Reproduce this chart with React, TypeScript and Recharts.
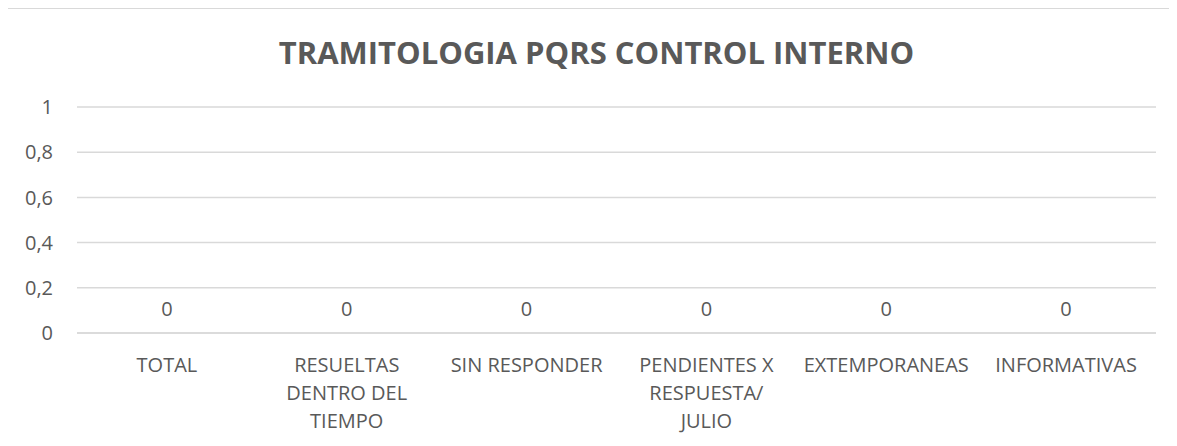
import { ComposedChart, Line, XAxis, YAxis, CartesianGrid, LabelList } from "recharts";

const CATEGORIES = [
  "TOTAL",
  "RESUELTAS\nDENTRO DEL\nTIEMPO",
  "SIN RESPONDER",
  "PENDIENTES X\nRESPUESTA/\nJULIO",
  "EXTEMPORANEAS",
  "INFORMATIVAS",
];
const VALUES = [0, 0, 0, 0, 0, 0];
const Y_TICKS = [0, 0.2, 0.4, 0.6, 0.8, 1];

const TITLE = "TRAMITOLOGIA PQRS CONTROL INTERNO";
const FONT = "'Open Sans', sans-serif";
const TEXT = "#595959";
const GRID = "#d9d9d9";

const data = CATEGORIES.map((name, i) => ({ name, value: VALUES[i] }));

function CategoryTick({ x = 0, y = 0, payload }: { x?: number; y?: number; payload?: { value: string } }) {
  const lines = String(payload?.value ?? "").split("\n");
  return (
    <text x={x} y={y} textAnchor="middle" fill={TEXT} fontSize={20} fontFamily={FONT}>
      {lines.map((l, i) => (
        <tspan key={i} x={x} dy={i === 0 ? 39 : 28}>
          {l}
        </tspan>
      ))}
    </text>
  );
}

// Excel-style label sitting above the zero line
function ZeroLabel(props: { x?: number; y?: number; value?: number }) {
  const { x = 0, y = 0, value } = props;
  return (
    <text x={x} y={y - 17} textAnchor="middle" fill={TEXT} fontSize={20} fontFamily={FONT}>
      {value}
    </text>
  );
}

export default function App() {
  return (
    <div
      style={{
        position: "relative",
        marginLeft: -1,
        width: 1170,
        height: 438,
        borderLeft: `1px solid ${GRID}`,
        borderTop: `1px solid ${GRID}`,
        background: "#fff",
        boxSizing: "border-box",
      }}
    >
      <div
        style={{
          position: "absolute",
          left: 0,
          right: 0,
          top: 22,
          paddingLeft: 8,
          textAlign: "center",
          fontFamily: FONT,
          fontWeight: 700,
          fontSize: 31,
          color: TEXT,
        }}
      >
        {TITLE}
      </div>
      <ComposedChart
        width={1169}
        height={437}
        data={data}
        margin={{ top: 98, right: 21, bottom: 0, left: 0 }}
      >
        <CartesianGrid vertical={false} stroke={GRID} strokeWidth={1.5} />
        <XAxis
          dataKey="name"
          scale="band"
          axisLine={{ stroke: GRID, strokeWidth: 1.5 }}
          tickLine={false}
          tickSize={0}
          tickMargin={0}
          height={113}
          interval={0}
          tick={<CategoryTick />}
        />
        <YAxis
          domain={[0, 1]}
          ticks={Y_TICKS}
          width={69}
          axisLine={false}
          tickLine={false}
          tickSize={0}
          tickMargin={24}
          tick={{ fill: TEXT, fontSize: 20, fontFamily: FONT }}
          tickFormatter={(v: number) => String(v).replace(".", ",")}
        />
        <Line
          dataKey="value"
          stroke="none"
          dot={false}
          activeDot={false}
          isAnimationActive={false}
        >
          <LabelList dataKey="value" content={<ZeroLabel />} />
        </Line>
      </ComposedChart>
    </div>
  );
}
